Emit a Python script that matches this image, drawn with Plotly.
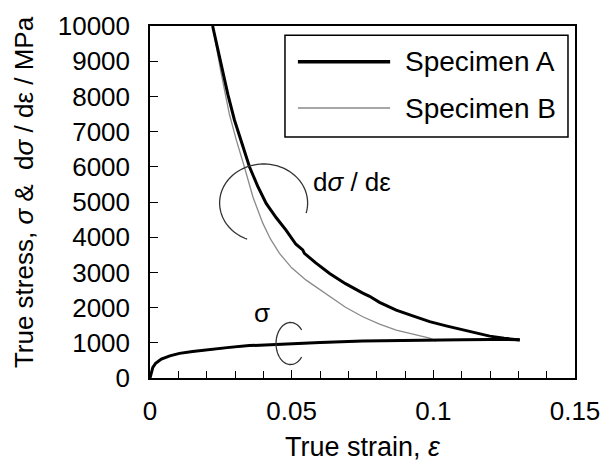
import numpy as np
import plotly.graph_objects as go

# ---- data ----
eps_dA = [0.0221, 0.025, 0.0275, 0.0298, 0.0325, 0.0351, 0.038, 0.041, 0.0445, 0.048,
          0.0515, 0.0539, 0.0545, 0.0585, 0.0634, 0.069, 0.0751, 0.0775, 0.081, 0.0869,
          0.093, 0.0987, 0.1045, 0.1105, 0.1199, 0.125, 0.1305]
dA = [10000, 8900, 8050, 7330, 6620, 6000, 5450, 4960, 4560, 4200,
      3800, 3640, 3540, 3270, 2970, 2680, 2410, 2320, 2150, 1930,
      1760, 1600, 1480, 1360, 1190, 1130, 1080]

eps_dB = [0.0221, 0.025, 0.028, 0.0305, 0.0333, 0.0363, 0.0398, 0.0425, 0.0457, 0.05,
          0.0551, 0.0634, 0.069, 0.0751, 0.081, 0.0869, 0.093, 0.0987, 0.101]
dB = [10000, 8700, 7500, 6750, 6000, 5150, 4400, 3950, 3540, 3130,
      2780, 2310, 2010, 1740, 1530, 1360, 1230, 1130, 1050]

eps_sA = [0, 0.0005, 0.001, 0.002, 0.004, 0.007, 0.0104, 0.015, 0.02, 0.028, 0.035,
          0.0516, 0.06, 0.075, 0.09, 0.0987, 0.11, 0.12, 0.1305]
sA = [0, 200, 300, 420, 540, 630, 700, 755, 805, 870, 920,
      985, 1010, 1050, 1075, 1080, 1090, 1095, 1090]

eps_sB = [0, 0.0005, 0.001, 0.002, 0.004, 0.007, 0.0104, 0.015, 0.02, 0.028, 0.035,
          0.0516, 0.06, 0.075, 0.09, 0.101]
sB = [0, 190, 290, 410, 530, 620, 690, 745, 795, 860, 910,
      975, 1000, 1040, 1065, 1070]

x_ticks = [0, 0.05, 0.1, 0.15]
x_ticktext = ["0", "0.05", "0.1", "0.15"]
y_ticks = list(range(0, 10001, 1000))
y_ticktext = [str(v) for v in y_ticks]

FONT = "Arial, Liberation Sans, sans-serif"
GRAY = "#8a8a8a"

fig = go.Figure()
fig.add_trace(go.Scatter(x=eps_sB, y=sB, mode="lines", line=dict(color=GRAY, width=1.3), showlegend=False))
fig.add_trace(go.Scatter(x=eps_dB, y=dB, mode="lines", line=dict(color=GRAY, width=1.3), showlegend=False))
fig.add_trace(go.Scatter(x=eps_sA, y=sA, mode="lines", line=dict(color="black", width=3), showlegend=False))
fig.add_trace(go.Scatter(x=eps_dA, y=dA, mode="lines", line=dict(color="black", width=3), showlegend=False))


def arc_path(cx, cy, rx, ry, a0, a1, n=80):
    t = np.radians(np.linspace(a0, a1, n))
    xs = cx + rx * np.cos(t)
    ys = cy + ry * np.sin(t)
    return "M " + " L ".join(f"{x:.6f},{y:.3f}" for x, y in zip(xs, ys))


shapes = [
    dict(type="path", xref="x", yref="y", path=arc_path(0.0401, 4972, 0.01553, 1108, -15, 248),
         line=dict(color="#333333", width=1.3)),
    dict(type="path", xref="x", yref="y", path=arc_path(0.0496, 980, 0.00512, 597, 40, 320),
         line=dict(color="#333333", width=1.3)),
    # manual legend
    dict(type="rect", xref="paper", yref="paper", x0=0.3176, x1=0.9835, y0=0.685, y1=0.974,
         line=dict(color="black", width=1.5), fillcolor="white", layer="above"),
    dict(type="line", xref="paper", yref="paper", x0=0.348, x1=0.565, y0=0.8986, y1=0.8986,
         line=dict(color="black", width=3.5), layer="above"),
    dict(type="line", xref="paper", yref="paper", x0=0.348, x1=0.565, y0=0.767, y1=0.767,
         line=dict(color=GRAY, width=1.3), layer="above"),
]

annotations = [
    dict(x=0.595, y=0.8986, xref="paper", yref="paper", text="Specimen A", showarrow=False,
         xanchor="left", yanchor="middle", font=dict(size=28, color="black", family=FONT)),
    dict(x=0.595, y=0.767, xref="paper", yref="paper", text="Specimen B", showarrow=False,
         xanchor="left", yanchor="middle", font=dict(size=28, color="black", family=FONT)),
    dict(x=0.0569, y=5577, xref="x", yref="y", text="d<i>σ</i> / dε", showarrow=False,
         xanchor="left", yanchor="middle", font=dict(size=26, color="black", family=FONT)),
    dict(x=0.0396, y=1838, xref="x", yref="y", text="σ", showarrow=False,
         xanchor="center", yanchor="middle", font=dict(size=26, color="black", family=FONT)),
    # y-axis title
    dict(x=-0.295, y=0.527, xref="paper", yref="paper", text="True stress, <i>σ</i> &  d<i>σ</i> / dε / MPa",
         showarrow=False, textangle=-90, xanchor="center", yanchor="middle",
         font=dict(size=26, color="black", family=FONT)),
    # x-axis title
    dict(x=0.5, y=-0.197, xref="paper", yref="paper", text="True strain, <i>ε</i>",
         showarrow=False, xanchor="center", yanchor="middle",
         font=dict(size=27, color="black", family=FONT)),
]

fig.update_layout(
    width=604, height=466,
    margin=dict(l=150, r=29, t=26, b=88, autoexpand=False),
    paper_bgcolor="white", plot_bgcolor="white",
    font=dict(family=FONT, size=26, color="black"),
    showlegend=False,
    shapes=shapes, annotations=annotations,
    xaxis=dict(range=[0, 0.15], tickvals=x_ticks, ticktext=x_ticktext,
               ticks="inside", ticklen=8, tickwidth=1.3, tickcolor="black",
               minor=dict(dtick=0.01, ticks="inside", ticklen=7, tickwidth=1.3, tickcolor="black"),
               showline=True, linecolor="black", linewidth=1.5, mirror=True,
               showgrid=False, zeroline=False, ticklabelstandoff=9, automargin=False,
               tickfont=dict(size=26)),
    yaxis=dict(range=[0, 10000], tickvals=y_ticks, ticktext=y_ticktext,
               ticks="inside", ticklen=8, tickwidth=1.3, tickcolor="black",
               showline=True, linecolor="black", linewidth=1.5, mirror=True,
               showgrid=False, zeroline=False, ticklabelstandoff=13, automargin=False,
               tickfont=dict(size=26)),
)

fig.write_html("out.html")
